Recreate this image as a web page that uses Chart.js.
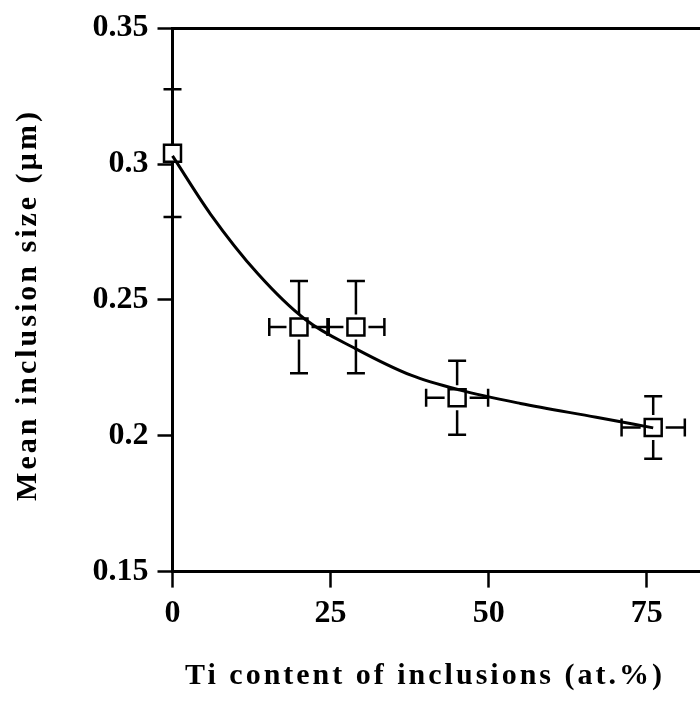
<!DOCTYPE html>
<html>
<head>
<meta charset="utf-8">
<script src="https://cdn.jsdelivr.net/npm/chart.js@4"></script>
<style>
  html, body { margin: 0; padding: 0; background: #fff; }
</style>
</head>
<body>
<canvas id="inclusionChart" width="700" height="707"></canvas>
<script>
// measured points with their error bars
const tiContent = [0, 20, 29, 45, 76];
const meanSize = [0.304, 0.240, 0.240, 0.214, 0.203];
const tiError = [0, 4.7, 4.5, 4.9, 5.0];
const sizeError = [0.0235, 0.017, 0.017, 0.0136, 0.0115];

// fitted curve
const fitX = [0, 6, 13.5, 21, 29, 37.7, 45.3, 55, 67, 76];
const fitY = [0.303, 0.2816, 0.2596, 0.2428, 0.232, 0.2223, 0.2169, 0.2119, 0.2068, 0.2029];

const xTicks = [0, 25, 50, 75];
const xTickLabels = ['0', '25', '50', '75'];
const yTicks = [0.15, 0.2, 0.25, 0.3, 0.35];
const yTickLabels = ['0.15', '0.2', '0.25', '0.3', '0.35'];

const xTitle = 'Ti content of inclusions (at.%)';
const yTitle = 'Mean inclusion size (µm)';

const serif = '"Liberation Serif", "Times New Roman", serif';

const errorBars = {
    id: 'errorBars',
    afterDatasetsDraw(chart) {
        const ctx = chart.ctx;
        const xs = chart.scales.x;
        const ys = chart.scales.y;
        const half = 8.5, gap = 4, cap = 9;
        ctx.save();
        ctx.strokeStyle = '#000';
        ctx.lineWidth = 2.5;
        ctx.beginPath();
        tiContent.forEach((tx, i) => {
            const px = xs.getPixelForValue(tx);
            const py = ys.getPixelForValue(meanSize[i]);
            const top = ys.getPixelForValue(meanSize[i] + sizeError[i]);
            const bottom = ys.getPixelForValue(meanSize[i] - sizeError[i]);
            ctx.moveTo(px, top); ctx.lineTo(px, py - half - gap);
            ctx.moveTo(px, py + half + gap); ctx.lineTo(px, bottom);
            ctx.moveTo(px - cap, top); ctx.lineTo(px + cap, top);
            ctx.moveTo(px - cap, bottom); ctx.lineTo(px + cap, bottom);
            if (tiError[i] > 0) {
                const left = xs.getPixelForValue(tx - tiError[i]);
                const right = xs.getPixelForValue(tx + tiError[i]);
                ctx.moveTo(left, py); ctx.lineTo(px - half - gap, py);
                ctx.moveTo(px + half + gap, py); ctx.lineTo(right, py);
                ctx.moveTo(left, py - cap); ctx.lineTo(left, py + cap);
                ctx.moveTo(right, py - cap); ctx.lineTo(right, py + cap);
            }
        });
        ctx.stroke();
        ctx.restore();
    }
};

const axisTitles = {
    id: 'axisTitles',
    afterDraw(chart) {
        const ctx = chart.ctx;
        ctx.save();
        ctx.fillStyle = '#000';
        ctx.font = 'bold 30px ' + serif;
        ctx.letterSpacing = '3px';
        ctx.textAlign = 'center';
        ctx.textBaseline = 'middle';
        ctx.fillText(xTitle, 425, 676);
        ctx.translate(28, 305);
        ctx.rotate(-Math.PI / 2);
        ctx.fillText(yTitle, 0, 0);
        ctx.restore();
    }
};

const tickFont = { family: serif, size: 32, weight: 'bold' };

const ctx = document.getElementById('inclusionChart').getContext('2d');
const chart = new Chart(ctx, {
    type: 'scatter',
    data: {
        datasets: [{
            type: 'line',
            label: 'fit',
            data: fitX.map((x, i) => ({ x: x, y: fitY[i] })),
            borderColor: '#000',
            borderWidth: 3,
            pointRadius: 0,
            cubicInterpolationMode: 'monotone',
            fill: false,
            clip: false
        }, {
            label: 'measured',
            data: tiContent.map((x, i) => ({ x: x, y: meanSize[i] })),
            pointStyle: 'rect',
            pointRadius: 12,
            pointBackgroundColor: '#fff',
            pointBorderColor: '#000',
            pointBorderWidth: 2.5,
            clip: false
        }]
    },
    options: {
        responsive: false,
        animation: false,
        devicePixelRatio: 1,
        layout: { autoPadding: false, padding: { left: 83.5, right: 0, top: 24, bottom: 67 } },
        plugins: {
            legend: { display: false },
            tooltip: { enabled: false }
        },
        scales: {
            x: {
                type: 'linear',
                min: 0,
                max: 83.4,
                afterBuildTicks: scale => { scale.ticks = xTicks.map(v => ({ value: v })); },
                ticks: {
                    callback: (value, index) => xTickLabels[index],
                    color: '#000',
                    font: tickFont,
                    padding: 7,
                    maxRotation: 0,
                    autoSkip: false
                },
                grid: { drawOnChartArea: false, tickLength: 16, tickColor: '#000', tickWidth: 2.5 },
                border: { display: true, color: '#000', width: 3 }
            },
            y: {
                type: 'linear',
                min: 0.15,
                max: 0.35,
                afterBuildTicks: scale => { scale.ticks = yTicks.map(v => ({ value: v })); },
                ticks: {
                    callback: (value, index) => yTickLabels[index],
                    color: '#000',
                    font: tickFont,
                    padding: 9,
                    autoSkip: false
                },
                grid: {
                    color: c => (c.tick && c.tick.value === 0.35) ? '#000' : 'rgba(0,0,0,0)',
                    lineWidth: 3,
                    tickLength: 15,
                    tickColor: '#000',
                    tickWidth: 2.5
                },
                border: { display: true, color: '#000', width: 3 }
            }
        }
    },
    plugins: [errorBars, axisTitles]
});
</script>
</body>
</html>
